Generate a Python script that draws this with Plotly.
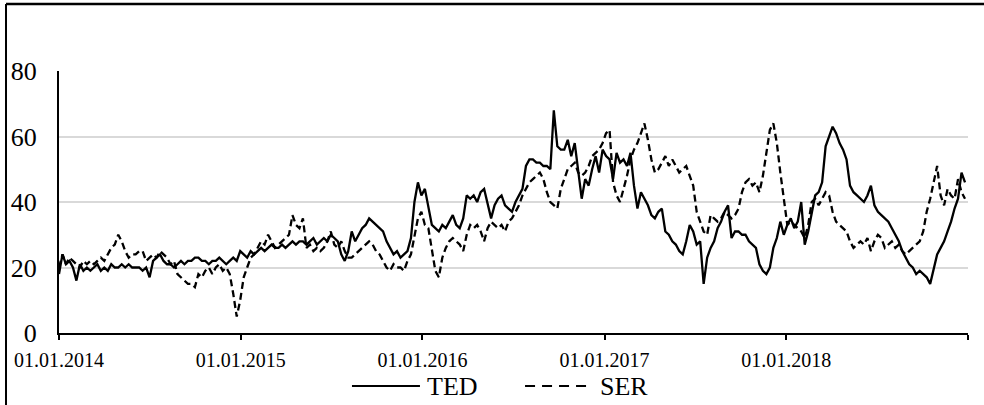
import pandas as pd
import plotly.graph_objects as go

# weekly observations, 2014-01-01 .. 2018-12-26
dates = pd.date_range("2014-01-01", periods=261, freq="7D")

ted = [
    18, 24, 21, 22, 20, 16, 21, 19, 20, 19,
    20, 21, 19, 20, 19, 21, 20, 20, 21, 20,
    21, 20, 20, 20, 19, 20, 17, 22, 23, 24,
    22, 21, 21, 20, 21, 22, 21, 22, 22, 23,
    23, 22, 22, 21, 22, 22, 23, 22, 21, 22,
    23, 22, 25, 24, 23, 25, 24, 25, 26, 25,
    26, 27, 26, 26, 27, 26, 27, 28, 27, 28,
    28, 27, 28, 29, 27, 28, 29, 28, 30, 29,
    28, 24, 22, 25, 31, 28, 30, 32, 33, 35,
    34, 33, 32, 31, 28, 26, 24, 25, 23, 24,
    25, 29, 40, 46, 42, 44, 38, 33, 32, 31,
    33, 32, 34, 36, 33, 32, 35, 42, 41, 42,
    40, 43, 44, 39, 35, 39, 41, 42, 39, 38,
    37, 40, 42, 44, 51, 53, 53, 52, 52, 51,
    51, 50, 68, 57, 56, 56, 59, 54, 58, 50,
    41, 47, 45, 50, 54, 49, 56, 54, 53, 47,
    55, 52, 53, 51, 55, 45, 38, 43, 41, 39,
    36, 35, 37, 38, 31, 30, 28, 27, 25, 24,
    28, 33, 31, 27, 28, 15, 23, 26, 28, 32,
    34, 37, 39, 29, 31, 31, 30, 30, 28, 27,
    26, 21, 19, 18, 20, 26, 29, 34, 30, 33,
    35, 32, 34, 40, 27, 31, 36, 42, 43, 46,
    57, 60, 63, 61, 58, 56, 53, 45, 43, 42,
    41, 40, 42, 45, 39, 37, 36, 35, 34, 32,
    30, 28, 25, 23, 21, 20, 18, 19, 18, 17,
    15, 20, 24, 26, 28, 31, 34, 38, 41, 49, 46,
]

ser = [
    20, 24, 21, 23, 22, 21, 20, 22, 21, 22,
    21, 22, 23, 22, 24, 26, 27, 30, 28, 25,
    23, 24, 24, 25, 25, 22, 23, 24, 23, 25,
    24, 23, 21, 22, 18, 17, 16, 15, 15, 14,
    18, 17, 19, 20, 18, 20, 21, 19, 20, 18,
    12, 5, 10, 17, 20, 23, 24, 26, 28, 27,
    30, 28, 26, 27, 28, 29, 30, 36, 33, 32,
    35, 26, 27, 25, 26, 25, 26, 28, 31, 27,
    26, 28, 25, 23, 23, 24, 25, 26, 27, 28,
    27, 25, 24, 22, 20, 19, 21, 20, 20, 19,
    22, 24, 30, 35, 37, 33, 32, 25, 19, 17,
    23, 26, 28, 29, 28, 27, 25, 30, 33, 32,
    33, 31, 28, 32, 34, 33, 32, 33, 31, 34,
    35, 37, 39, 42, 44, 46, 47, 48, 49, 47,
    43, 40, 39, 38, 44, 47, 50, 51, 52, 49,
    48, 49, 51, 54, 55, 56, 58, 61, 62, 46,
    42, 40, 44, 48, 53, 56, 58, 61, 64, 59,
    53, 49, 50, 52, 54, 51, 53, 51, 49, 50,
    51, 48, 45, 37, 34, 31, 30, 36, 35, 34,
    35, 37, 36, 35, 36, 38, 43, 46, 47, 45,
    46, 43, 48, 55, 62, 64, 58, 49, 41, 33,
    34, 33, 32, 31, 29, 33, 40, 41, 39, 41,
    43, 42, 37, 34, 33, 32, 31, 28, 26, 27,
    28, 27, 29, 25, 28, 30, 29, 26, 27, 28,
    26, 27, 25, 24, 25, 26, 27, 28, 31, 37,
    41, 46, 51, 42, 39, 44, 42, 41, 47, 43, 41,
]

tick_dates = ["2014-01-01", "2015-01-01", "2016-01-01", "2017-01-01", "2018-01-01", "2019-01-01"]
tick_labels = ["01.01.2014", "01.01.2015", "01.01.2016", "01.01.2017", "01.01.2018", ""]

FONT = "Liberation Serif, Times New Roman, serif"

fig = go.Figure()

fig.add_trace(go.Scatter(x=dates, y=ted, name="TED", mode="lines",
                         line=dict(color="black", width=2.3)))
fig.add_trace(go.Scatter(x=dates, y=ser, name="SER", mode="lines",
                         line=dict(color="black", width=2.3, dash="7px,4px")))

fig.update_layout(
    width=984, height=405,
    margin=dict(l=59, r=16, t=71, b=72),
    paper_bgcolor="white", plot_bgcolor="white",
    showlegend=False,
    font=dict(family=FONT, color="black"),
)

fig.update_xaxes(
    type="date",
    range=["2014-01-01", "2019-01-01"],
    tickvals=tick_dates, ticktext=tick_labels,
    ticks="outside", ticklen=5, tickwidth=2, tickcolor="black",
    showline=True, linecolor="black", linewidth=2,
    showgrid=False, zeroline=False,
    tickfont=dict(size=20, family=FONT),
    ticklabelstandoff=3,
    automargin=False,
)

fig.update_yaxes(
    range=[0, 80], dtick=20,
    showline=True, linecolor="black", linewidth=2,
    showgrid=True, gridcolor="#d9d9d9", gridwidth=1.5,
    zeroline=False, ticks="",
    tickfont=dict(size=26, family=FONT),
    ticklabelstandoff=15,
    automargin=False,
)

# chart frame (only top and left edges are visible in the crop)
fig.add_shape(type="line", xref="paper", yref="paper",
              x0=-0.0583, x1=1.02, y0=1.2557, y1=1.2557,
              line=dict(color="black", width=2.5))
fig.add_shape(type="line", xref="paper", yref="paper",
              x0=-0.0583, x1=-0.0583, y0=1.2557, y1=-0.3,
              line=dict(color="black", width=2))

# legend drawn by hand so the sample lines are as long as in the original
fig.add_shape(type="line", xref="paper", yref="paper",
              x0=0.3223, x1=0.3971, y0=-0.2023, y1=-0.2023,
              line=dict(color="black", width=2))
fig.add_shape(type="line", xref="paper", yref="paper",
              x0=0.5127, x1=0.5864, y0=-0.2023, y1=-0.2023,
              line=dict(color="black", width=2, dash="10px,7px"))
fig.add_annotation(text="TED", xref="paper", yref="paper", x=0.4026, y=-0.2023,
                   xanchor="left", yanchor="middle", showarrow=False,
                   font=dict(size=26, family=FONT, color="black"))
fig.add_annotation(text="SER", xref="paper", yref="paper", x=0.5930, y=-0.2023,
                   xanchor="left", yanchor="middle", showarrow=False,
                   font=dict(size=26, family=FONT, color="black"))

# drop the browser's default body margin so the chart sits at the page corner
fig.write_html("out.html", config={"displayModeBar": False},
               post_script="document.body.style.margin = '0';")
